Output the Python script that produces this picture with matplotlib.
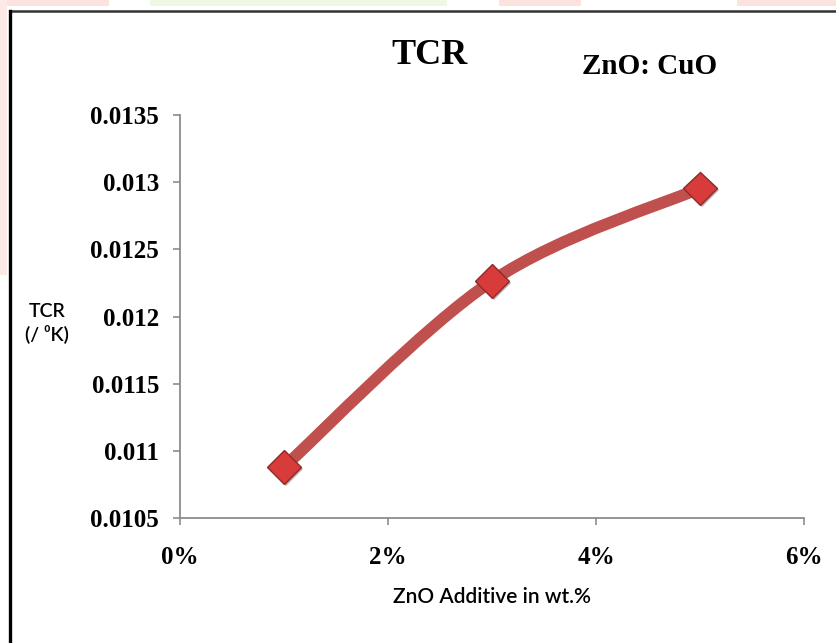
import numpy as np
import matplotlib
matplotlib.use("Agg")
import matplotlib.pyplot as plt
from matplotlib.path import Path
from matplotlib.patches import PathPatch, Rectangle
from matplotlib.lines import Line2D
import matplotlib.patheffects as pe

# ZnO additive (wt.%) and temperature coefficient of resistance
zno_wt = [1, 3, 5]
tcr = [0.01088, 0.012265, 0.012955]

y_ticks = [0.0105, 0.011, 0.0115, 0.012, 0.0125, 0.013, 0.0135]
y_tick_labels = ["0.0105", "0.011", "0.0115", "0.012", "0.0125", "0.013", "0.0135"]
x_ticks = [0, 2, 4, 6]
x_tick_labels = ["0%", "2%", "4%", "6%"]

line_red = "#c0504d"
W, H = 837, 643

fig = plt.figure(figsize=(W / 100, H / 100), dpi=100)
fig.patch.set_facecolor("white")

# faint background blocks peeking around the frame
for x0, x1, c in [(0, 109, "#fde3e0"), (150, 447, "#eef8e4"),
                  (499, 581, "#fde3e0"), (737, 837, "#fde3e0")]:
    fig.add_artist(Rectangle((x0 / W, 1 - 6 / H), (x1 - x0) / W, 6 / H,
                             transform=fig.transFigure, color=c, lw=0))
fig.add_artist(Rectangle((0, 1 - 275 / H), 7 / W, 275 / H,
                         transform=fig.transFigure, color="#fdeae7", lw=0))

# frame: dark top and left edges
fig.add_artist(Line2D([10 / W, 1], [1 - 11 / H, 1 - 11 / H],
                      transform=fig.transFigure, color="#333333", lw=1.8))
fig.add_artist(Line2D([10 / W, 10 / W], [0, 1 - 11 / H],
                      transform=fig.transFigure, color="black", lw=2.4))

ax = fig.add_axes([180 / W, 1 - 518 / H, 624 / W, 403 / H])
ax.set_xlim(0, 6)
ax.set_ylim(0.0105, 0.0135)

# smoothed curve through the points (Catmull-Rom style Bezier segments)
pts = np.column_stack([zno_wt, tcr])
verts = [pts[0]]
codes = [Path.MOVETO]
n = len(pts)
for i in range(n - 1):
    p0 = pts[i - 1] if i > 0 else pts[i]
    p1, p2 = pts[i], pts[i + 1]
    p3 = pts[i + 2] if i + 2 < n else pts[i + 1]
    c1 = p1 + (p2 - p0) / 6
    c2 = p2 - (p3 - p1) / 6
    verts += [c1, c2, p2]
    codes += [Path.CURVE4] * 3
curve = PathPatch(Path(verts, codes), fill=False, edgecolor=line_red,
                  lw=8.5, capstyle="round", zorder=2)
ax.add_patch(curve)

ax.plot(zno_wt, tcr, linestyle="none", marker="D", markersize=17,
        markerfacecolor="#d83c3a", markeredgecolor="#8e2a28",
        markeredgewidth=1.0, zorder=3,
        path_effects=[pe.SimplePatchShadow(offset=(1.5, -1.5), alpha=0.35),
                      pe.Normal()])

for s in ["top", "right"]:
    ax.spines[s].set_visible(False)
for s in ["left", "bottom"]:
    ax.spines[s].set_color("#8c8c8c")
    ax.spines[s].set_linewidth(1.3)

ax.set_yticks(y_ticks)
ax.set_yticklabels(y_tick_labels)
ax.set_xticks(x_ticks)
ax.set_xticklabels(x_tick_labels)
ax.tick_params(axis="both", colors="#8c8c8c", length=5, width=1.2,
               direction="out", labelcolor="black")
ax.tick_params(axis="y", pad=10)
ax.tick_params(axis="x", pad=15)
for lbl in ax.get_xticklabels() + ax.get_yticklabels():
    lbl.set_fontfamily("Liberation Serif")
    lbl.set_fontweight("bold")
    lbl.set_fontsize(18)

fig.text(430 / W, 1 - 55 / H, "TCR", ha="center", va="center",
         family="Liberation Serif", weight="bold", fontsize=26)
fig.text(650 / W, 1 - 66 / H, "ZnO: CuO", ha="center", va="center",
         family="Liberation Serif", weight="bold", fontsize=21)

fig.text(47 / W, 1 - 323 / H, "TCR\n(/ \u2070K)", ha="center", va="center",
         family=["Lato", "DejaVu Sans"], fontsize=14, weight="semibold",
         linespacing=1.2)
fig.text(492 / W, 1 - 597 / H, "ZnO Additive in wt.%", ha="center", va="center",
         family=["Lato", "DejaVu Sans"], fontsize=15, weight="semibold")

fig.savefig("out.png", dpi=100, facecolor="white")
